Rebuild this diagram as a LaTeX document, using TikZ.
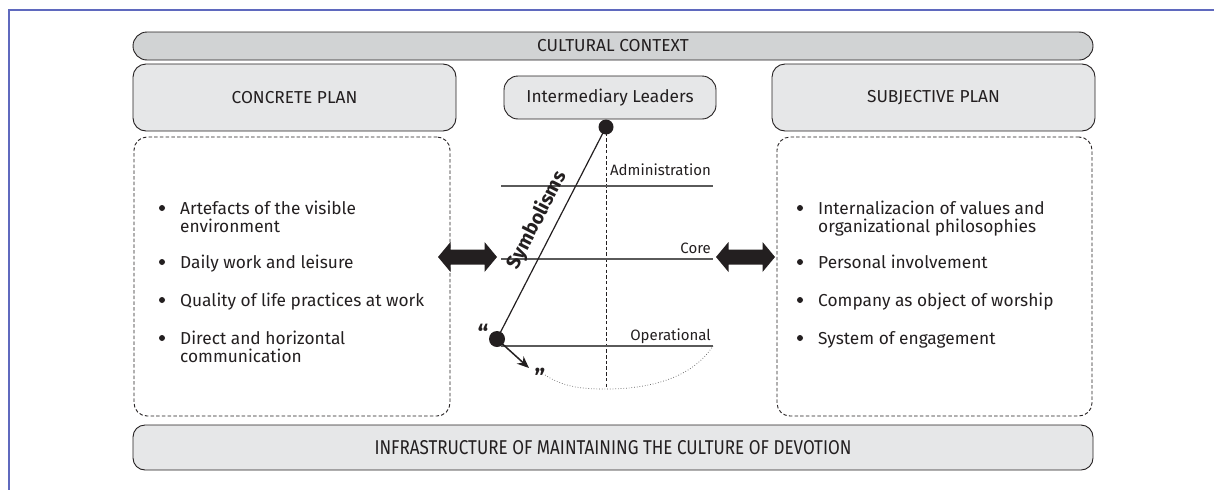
\documentclass[tikz,border=0pt]{standalone}
\usepackage{fontspec}
\setmainfont{Fira Sans}
\usetikzlibrary{arrows.meta}
\definecolor{frm}{RGB}{95,105,190}
\definecolor{hdr}{RGB}{230,231,232}
\definecolor{barc}{RGB}{209,211,212}
\definecolor{txt}{RGB}{35,31,32}
\definecolor{lnc}{RGB}{90,90,90}
\newcommand{\itmfont}{\fontsize{17.3}{20}\selectfont}
\newcommand{\capfont}{\fontsize{17.3}{20}\selectfont}
\newcommand{\lblfont}{\fontsize{15}{18}\selectfont}
\tikzset{
  frameline/.style={draw=frm, line width=1.3pt},
  headbox/.style={draw=txt, line width=0.9pt, fill=hdr, rounded corners=13pt, text=txt, font=\capfont, inner sep=0pt},
  barbox/.style={draw=txt, line width=0.9pt, fill=barc, rounded corners=14pt, text=txt, font=\capfont, inner sep=0pt},
  dashbox/.style={draw=txt, line width=0.9pt, dash pattern=on 3.5pt off 2.2pt, rounded corners=13pt, inner sep=0pt},
  itm/.style={anchor=base west, inner sep=0pt, font=\itmfont, text=txt},
  lbl/.style={anchor=base east, inner sep=0pt, font=\lblfont, text=txt},
  levelline/.style={draw=lnc, line width=1.1pt},
  blob/.style={circle, fill=txt, inner sep=0pt},
  quot/.style={inner sep=0pt, font=\fontsize{24}{24}\selectfont\bfseries, text=txt},
  dblarr/.pic={\fill[txt] (-29.5,0) -- (-17,-15) -- (-17,-7.5) -- (17,-7.5) -- (17,-15) -- (29.5,0) -- (17,15) -- (17,7.5) -- (-17,7.5) -- (-17,15) -- cycle;}
}
\begin{document}
\begin{tikzpicture}[x=1pt,y=-1pt]
\useasboundingbox (0,0) rectangle (1214,490);
% frame
\coordinate (f0) at (1214,10);
\coordinate (f1) at (9,10);
\coordinate (f2) at (9,490);
\draw[frameline] (f0) -- (f1) -- (f2);

% boxes
\node[barbox, minimum width=960pt, minimum height=28pt] (ctx) at (613,46) {CULTURAL CONTEXT};
\node[headbox, minimum width=323pt, minimum height=67pt] (conc) at (294.5,97.5) {CONCRETE PLAN};
\node[headbox, minimum width=323pt, minimum height=67pt] (subj) at (933.5,97.5) {SUBJECTIVE PLAN};
\node[headbox, rounded corners=14pt, minimum width=212pt, minimum height=43pt] (lead) at (610,97.5) {Intermediary Leaders};
\node[dashbox, minimum width=316pt, minimum height=279pt] (cbox) at (292,276.5) {};
\node[dashbox, minimum width=315pt, minimum height=279pt] (sbox) at (934.5,276.5) {};
\node[headbox, rounded corners=12pt, minimum width=960pt, minimum height=45pt] (infra) at (613,447.5) {\resizebox{477pt}{\height}{\fontsize{20}{22}\selectfont INFRASTRUCTURE OF MAINTAINING THE CULTURE OF DEVOTION}};

% left items
\foreach \yy in {214,268,306,344} \fill[txt] (162,\yy-6) circle (3pt);
\node[itm] (l1a) at (180,214) {Artefacts of the visible};
\node[itm] (l1b) at (180,232) {environment};
\node[itm] (l2) at (180,268) {Daily work and leisure};
\node[itm] (l3) at (180,306) {Quality of life practices at work};
\node[itm] (l4a) at (180,344) {Direct and horizontal};
\node[itm] (l4b) at (180,362) {communication};

% right items
\foreach \yy in {214,268,306,344} \fill[txt] (800,\yy-6) circle (3pt);
\node[itm] (r1a) at (818,214) {Internalizacion of values and};
\node[itm] (r1b) at (818,232) {organizational philosophies};
\node[itm] (r2) at (818,268) {Personal involvement};
\node[itm] (r3) at (818,306) {Company as object of worship};
\node[itm] (r4) at (818,344) {System of engagement};

% centre diagram
\node[blob, minimum size=15pt] (tdot) at (606,127) {};
\node[blob, minimum size=16pt] (bdot) at (497,339) {};
\coordinate (vend) at (606,388);
\draw[txt, line width=0.9pt, dash pattern=on 3.5pt off 2.2pt] (tdot.center) -- (vend);

\coordinate (a1) at (501,186); \coordinate (a2) at (713,186);
\coordinate (c1) at (501,259); \coordinate (c2) at (713,259);
\coordinate (o1) at (501,346); \coordinate (o2) at (713,346);
\draw[levelline] (a1) -- (a2);
\draw[levelline] (c1) -- (c2);
\draw[levelline] (o1) -- (o2);
\node[lbl] (la) at (711,175) {Administration};
\node[lbl] (lc) at (711,253) {Core};
\node[lbl] (lo) at (711,340) {Operational};

\draw[txt, line width=1.2pt] (tdot.center) -- (bdot.center);
\node[inner sep=0pt, rotate=62.8, font=\fontsize{19.5}{20}\selectfont\bfseries, text=txt] (sym) at (537,220) {Symbolisms};

\coordinate (arcs) at (545,375);
\draw[lnc, line width=0.7pt, dotted] (arcs) .. controls (565,388) and (585,389) .. (606,389) .. controls (650,389) and (692,378) .. (o2);
\coordinate (aend) at (529,368);
\draw[txt, line width=1.5pt, -{Stealth[length=12pt,width=10pt]}] (bdot.center) -- (aend);
\node[quot] (q1) at (483,333) {“};
\node[quot] (q2) at (540,377) {”};

% double arrows
\pic at (467.5,257) {dblarr};
\pic at (745.5,257) {dblarr};
\end{tikzpicture}
\end{document}
